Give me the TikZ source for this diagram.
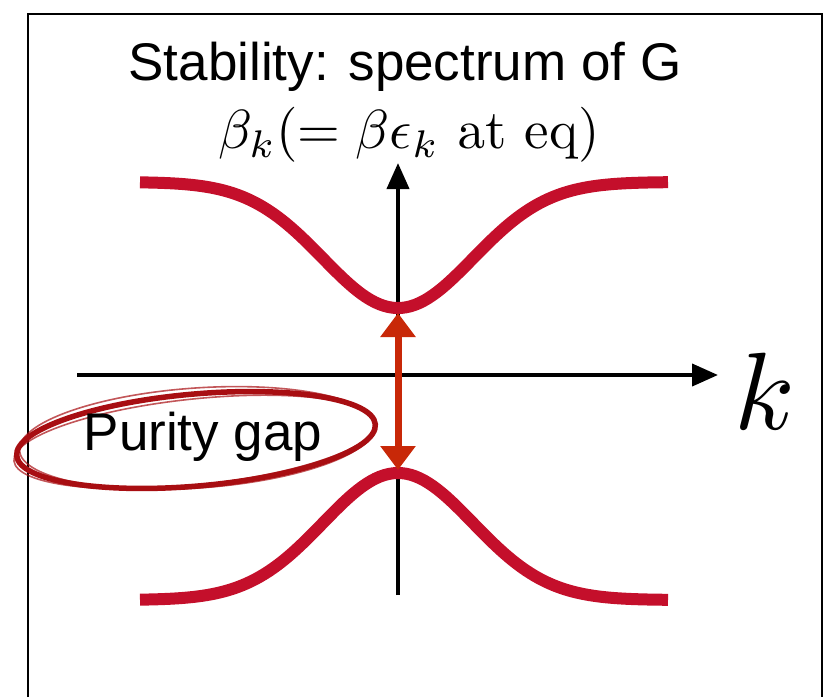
\documentclass[tikz,border=0pt]{standalone}
\usepackage[no-math]{fontspec}
\newfontfamily\helv{Liberation Sans}
\usetikzlibrary{arrows.meta}
\definecolor{curvecol}{RGB}{196,15,43}
\definecolor{gapcol}{RGB}{200,40,8}
\definecolor{brushcol}{RGB}{168,14,18}
\tikzset{
  frameline/.style={line width=2pt, black},
  axisline/.style={line width=4pt, black, -{Triangle[length=26pt,width=22pt]}},
  band/.style={line width=12pt, curvecol},
  gaparrow/.style={line width=7pt, gapcol, {Triangle[length=24pt,width=34pt]}-{Triangle[length=24pt,width=34pt]}},
  brush/.style={brushcol, line width=5.5pt},
  brushthin/.style={brushcol, line width=1.6pt, opacity=0.7},
  sanslabel/.style={font=\helv\fontsize{53}{60}\selectfont, inner sep=0pt},
}
\begin{document}
\begin{tikzpicture}[x=1pt,y=-1pt]
\useasboundingbox (0,0) rectangle (839,697);
\draw[frameline] (28,697) -- (28,14) -- (822,14) -- (822,697);
% texts
\node[sanslabel] (title) at (405,67) {Stability: spectrum of G};
\node[inner sep=0pt] (ylab) at (409,135) {\scalebox{5.5}{$\beta_k(=\beta\epsilon_k\ \mathrm{at\ eq})$}};
\node[inner sep=0pt] (klab) at (765,391) {\scalebox{11}{$k$}};
% axes
\coordinate (ybot) at (398,595);
\coordinate (ytop) at (398,163);
\coordinate (xl) at (77,375);
\coordinate (xr) at (718,375);
\draw[axisline] (ybot) -- (ytop);
\draw[axisline] (xl) -- (xr);
% bands
\draw[band] plot[domain=140:668, samples=120] (\x, {182+126*exp(-0.5*((\x-398)/75)^2)});
\draw[band] plot[domain=140:668, samples=120] (\x, {600-127*exp(-0.5*((\x-398)/75)^2)});
% gap arrow
\coordinate (gtop) at (398,313);
\coordinate (gbot) at (398,470);
\draw[gaparrow] (gtop) -- (gbot);
% purity gap ellipse
\draw[brush, rotate around={5:(196,440)}] (196,440) ellipse [x radius=180, y radius=46];
\draw[brushthin, rotate around={4:(197,438)}] (197,438) ellipse [x radius=178, y radius=50];
\draw[brushthin, rotate around={6:(195,442)}] (195,442) ellipse [x radius=182, y radius=43];
\node[sanslabel] (pg) at (203,437) {Purity gap};
\end{tikzpicture}
\end{document}
